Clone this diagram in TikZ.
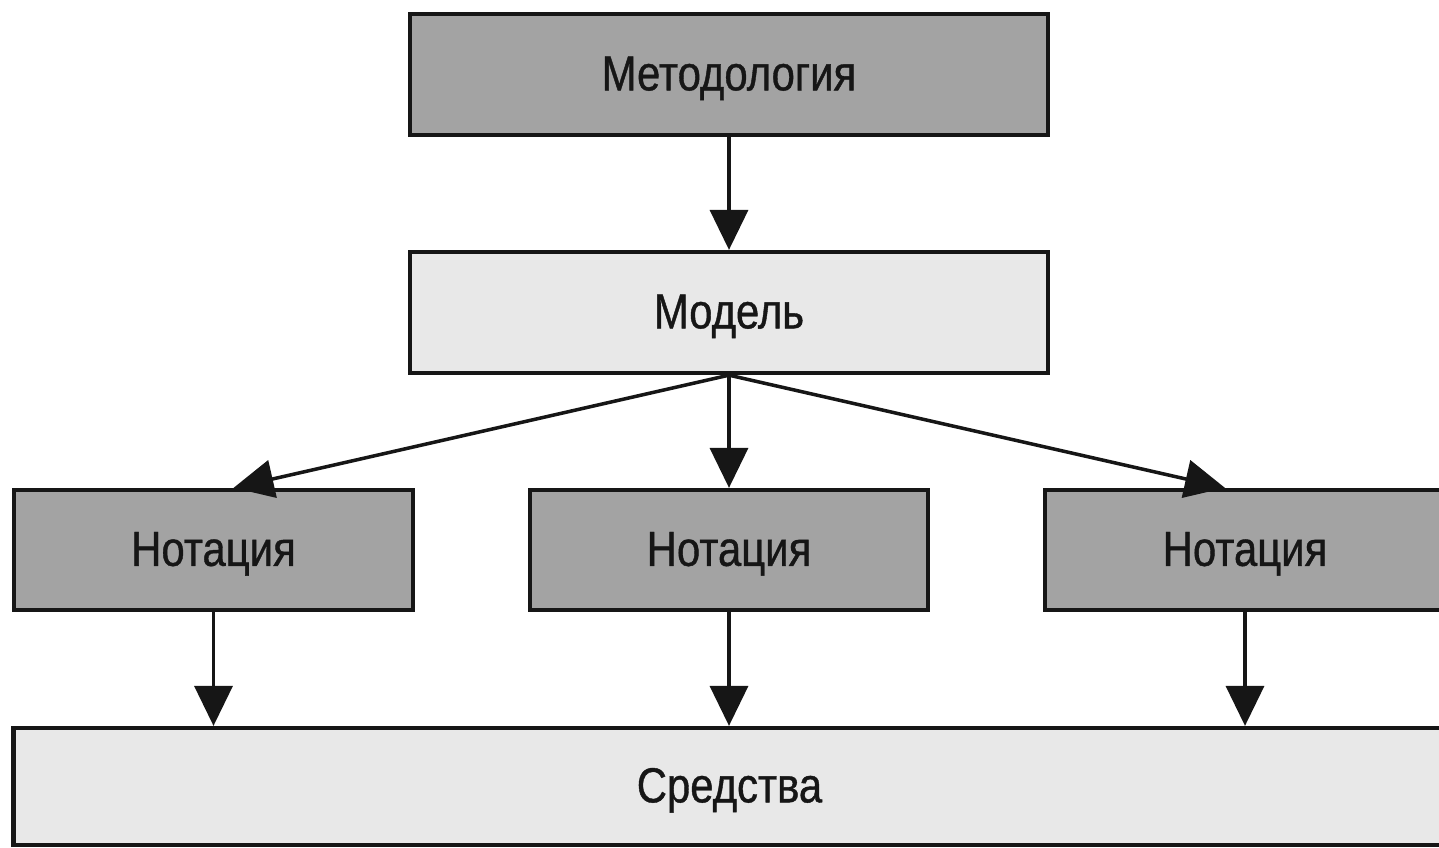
\documentclass[tikz,border=0pt]{standalone}
\usepackage{fontspec}
\setmainfont[FakeStretch=0.85,FakeBold=0.8]{Liberation Sans}
\usepackage{tikz}
\usetikzlibrary{arrows.meta,positioning,calc}
\definecolor{darkbox}{HTML}{A3A3A3}
\definecolor{lightbox}{HTML}{E8E8E8}
\definecolor{edge}{HTML}{161616}

\begin{document}
\begin{tikzpicture}[x=0.01cm,y=-0.01cm,>={Triangle[length=0.4cm,width=0.38cm]},
  every node/.style={font=\fontsize{14}{16}\selectfont,text=edge},
  box/.style={draw=edge,line width=1.2pt,inner sep=0pt,minimum height=1.2cm,text height=9pt,text depth=0pt},
  darkbox/.style={box,fill=darkbox},
  lightbox/.style={box,fill=lightbox},
  link/.style={->,line width=1pt,draw=edge}]
\useasboundingbox (0,0) rectangle (1439,847);
\clip (0,0) rectangle (1439,847);
\node[darkbox,minimum width=6.38cm,minimum height=1.21cm] (met) at (729,74.5) {Методология};
\node[lightbox,minimum width=6.38cm,minimum height=1.21cm] (mod) at (729,312.5) {Модель};
\node[darkbox,minimum width=3.99cm] (not1) at (213.5,550) {Нотация};
\node[darkbox,minimum width=3.98cm] (not2) at (729,550) {Нотация};
\node[darkbox,minimum width=4cm] (not3) at (1245,550) {Нотация};
\node[lightbox,minimum width=14.31cm,minimum height=1.17cm] (sred) at (729.5,786.5) {Средства};
\draw[link] (met) -- (mod);
\draw[link] (mod.south) -- ([xshift=0.2cm]not1.north);
\draw[link] (mod.south) -- (not2.north);
\draw[link] (mod.south) -- ([xshift=-0.2cm]not3.north);
\draw[link] (not1.south) -- (not1.south |- sred.north);
\draw[link] (not2.south) -- (not2.south |- sred.north);
\draw[link] (not3.south) -- (not3.south |- sred.north);
\end{tikzpicture}
\end{document}
